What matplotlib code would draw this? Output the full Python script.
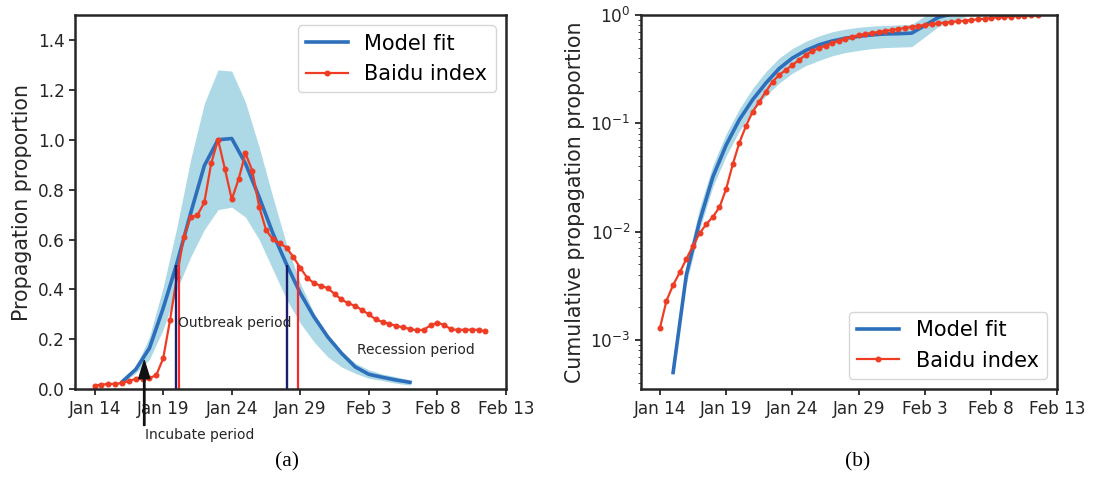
import numpy as np
import pandas as pd
import matplotlib
matplotlib.use("Agg")
import matplotlib.pyplot as plt

# Baidu index, sampled every 12 hours from Jan 14
baidu = [0.015, 0.019, 0.021, 0.022, 0.025, 0.033, 0.042, 0.042, 0.045, 0.057,
         0.124, 0.278, 0.45, 0.612, 0.689, 0.698, 0.749, 0.905, 1.0, 0.883,
         0.761, 0.842, 0.946, 0.875, 0.732, 0.638, 0.601, 0.585, 0.568, 0.529,
         0.487, 0.447, 0.425, 0.415, 0.405, 0.382, 0.360, 0.345, 0.334, 0.318,
         0.300, 0.280, 0.270, 0.262, 0.254, 0.248, 0.242, 0.236, 0.239, 0.256,
         0.267, 0.258, 0.240, 0.238, 0.239, 0.239, 0.238, 0.232]
baidu_cum = [1.28e-3, 2.30e-3, 3.21e-3, 4.2e-3, 5.58e-3, 7.41e-3, 9.64e-3, 0.0117, 0.0137, 0.0168,
             0.0247, 0.0418, 0.0663, 0.0945, 0.128, 0.158, 0.196, 0.242, 0.279, 0.311,
             0.345, 0.384, 0.427, 0.466, 0.492, 0.521, 0.548, 0.580, 0.605, 0.631,
             0.649, 0.668, 0.682, 0.697, 0.712, 0.727, 0.743, 0.759, 0.775, 0.791,
             0.809, 0.820, 0.838, 0.850, 0.862, 0.874, 0.887, 0.899, 0.912, 0.925,
             0.938, 0.952, 0.958, 0.965, 0.979, 0.986, 0.993, 1.0]

# daily model fit from Jan 16 with its uncertainty band
model = [0.03, 0.08, 0.165, 0.325, 0.505, 0.705, 0.896, 1.0, 1.005, 0.905, 0.77,
         0.625, 0.50, 0.385, 0.29, 0.21, 0.145, 0.09, 0.06, 0.048, 0.037, 0.028]
model_hi = [0.03, 0.09, 0.21, 0.41, 0.65, 0.92, 1.145, 1.28, 1.275, 1.15, 0.97,
            0.77, 0.58, 0.425, 0.305, 0.22, 0.15, 0.105, 0.078, 0.061, 0.05, 0.037]
model_lo = [0.025, 0.065, 0.12, 0.24, 0.40, 0.53, 0.64, 0.72, 0.73, 0.69, 0.60,
            0.48, 0.36, 0.265, 0.19, 0.13, 0.09, 0.064, 0.044, 0.035, 0.024, 0.017]

# cumulative model fit, daily from Jan 15
cum_model = [5.0e-4, 4.0e-3, 0.0125, 0.032, 0.063, 0.108, 0.165, 0.235, 0.32, 0.40, 0.47,
             0.53, 0.575, 0.61, 0.635, 0.655, 0.668, 0.672, 0.68, 0.80, 0.95, 1.02, 1.03]
# band, daily from Jan 16
cum_hi = [5.0e-3, 0.0165, 0.041, 0.080, 0.136, 0.21, 0.30, 0.40, 0.49, 0.57, 0.64,
          0.70, 0.74, 0.77, 0.79, 0.80, 0.81, 0.82, 0.98, 1.15, 1.25, 1.3]
cum_lo = [3.3e-3, 0.0105, 0.026, 0.050, 0.085, 0.128, 0.18, 0.235, 0.29, 0.34, 0.38,
          0.42, 0.45, 0.47, 0.49, 0.50, 0.505, 0.51, 0.63, 0.78, 0.88, 0.95]

# half-maximum crossings (days after Jan 14)
model_half = [5.97, 14.0]
baidu_half = [6.15, 14.84]

start = pd.Timestamp("2020-01-14")
t_baidu = pd.date_range(start, periods=len(baidu), freq="12h")
t_model = pd.date_range("2020-01-16", periods=len(model), freq="D")
t_cum = pd.date_range("2020-01-15", periods=len(cum_model), freq="D")
t_band = pd.date_range("2020-01-16", periods=len(cum_hi), freq="D")
tick_dates = pd.date_range(start, periods=7, freq="5D")
tick_labels = ["Jan 14", "Jan 19", "Jan 24", "Jan 29", "Feb 3", "Feb 8", "Feb 13"]

def day(d):
    return start + pd.Timedelta(days=d)

blue = "#2d6fba"
red = "#ee3d24"
dark = "#262626"

plt.rcParams["font.family"] = "DejaVu Sans"
plt.rcParams["axes.edgecolor"] = dark
plt.rcParams["axes.linewidth"] = 1.8
plt.rcParams["xtick.color"] = dark
plt.rcParams["ytick.color"] = dark
plt.rcParams["xtick.major.width"] = 1.3
plt.rcParams["ytick.major.width"] = 1.3
plt.rcParams["xtick.major.size"] = 4
plt.rcParams["ytick.major.size"] = 4

fig = plt.figure(figsize=(11.05, 4.83), dpi=100)
ax1 = fig.add_axes([0.0679, 0.194, 0.390, 0.775])
ax2 = fig.add_axes([0.580, 0.194, 0.377, 0.775])

# (a) daily proportion
ax1.fill_between(t_model, model_lo, model_hi, color="lightblue", lw=0)
ax1.plot(t_model, model, color=blue, lw=2.6, label="Model fit")
ax1.plot(t_baidu, baidu, color=red, lw=1.6, marker="o", ms=3.3, label="Baidu index")
for d in model_half:
    ax1.vlines(day(d), 0, 0.5, color="#1b1f6b", lw=1.7)
for d in baidu_half:
    ax1.vlines(day(d), 0, 0.5, color="#f52a2e", lw=1.6)
ax1.set_ylim(0, 1.5)
ax1.set_yticks(np.arange(0, 1.41, 0.2))
ax1.set_ylabel("Propagation proportion", fontsize=14.8, color=dark)
ax1.text(day(6.1), 0.267, "Outbreak period", fontsize=10, color=dark, va="center")
ax1.text(day(19.1), 0.157, "Recession period", fontsize=10, color=dark, va="center")
ax1.annotate("", xy=(day(3.62), 0.115), xytext=(day(3.62), -0.145),
             arrowprops=dict(facecolor="#111111", edgecolor="#111111", width=1.0,
                             headwidth=8, headlength=13),
             annotation_clip=False)
ax1.text(day(3.65), -0.183, "Incubate period", fontsize=10, color=dark, va="center")
ax1.legend(loc="upper right", fontsize=15)

# (b) cumulative proportion, log scale
ax2.fill_between(t_band, cum_lo, cum_hi, color="lightblue", lw=0)
ax2.plot(t_cum, cum_model, color=blue, lw=2.6, label="Model fit")
ax2.plot(t_baidu, baidu_cum, color=red, lw=1.6, marker="o", ms=3.3, label="Baidu index")
ax2.set_yscale("log")
ax2.set_ylim(3.5e-4, 1)
ax2.set_ylabel("Cumulative propagation proportion", fontsize=14.8, color=dark)
ax2.legend(loc="lower right", fontsize=15)

for ax in (ax1, ax2):
    ax.set_xlim(day(-1.43), day(30))
    ax.set_xticks(tick_dates)
    ax.set_xticklabels(tick_labels)
    ax.tick_params(labelsize=12.2)

fig.text(0.26, 0.035, "(a)", family="Liberation Serif", fontsize=15.5, ha="center")
fig.text(0.776, 0.035, "(b)", family="Liberation Serif", fontsize=15.5, ha="center")

fig.savefig("out.png", dpi=100)
